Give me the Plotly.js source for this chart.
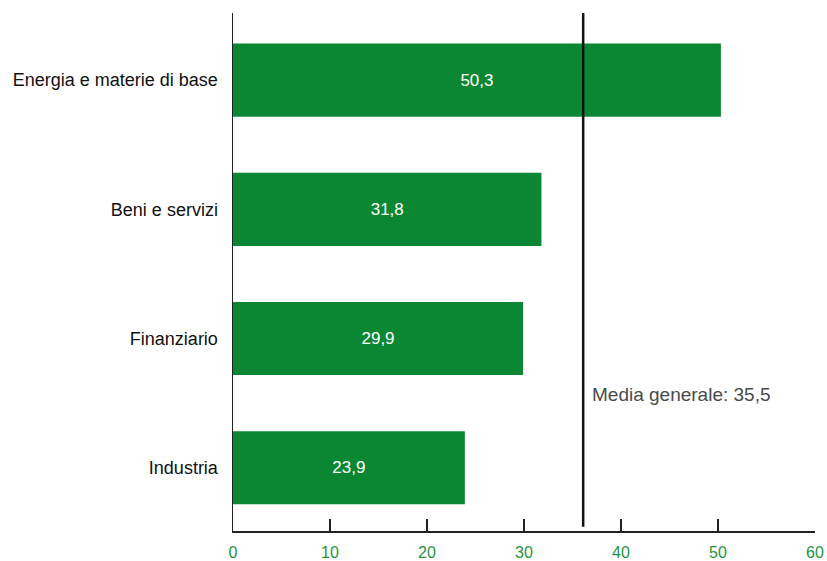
<!DOCTYPE html>
<html>
<head>
<meta charset="utf-8">
<script src="https://cdn.plot.ly/plotly-3.0.1.min.js"></script>
<style>html,body{margin:0;padding:0;background:#fff;}#chart{width:827px;height:561px;}</style>
</head>
<body>
<div id="chart"></div>
<script>
const categories = ["Industria", "Finanziario", "Beni e servizi", "Energia e materie di base"];
const values = [23.9, 29.9, 31.8, 50.3];
const meanLabel = "Media generale: 35,5";
const meanLineX = 36.1;
const xTicks = [0, 10, 20, 30, 40, 50, 60];

const green = "#0b8733";
const trace = {
  type: "bar",
  orientation: "h",
  y: categories,
  x: values,
  marker: {color: green},
  width: 0.566,
  text: values.map(v => v.toFixed(1).replace(".", ",")),
  textposition: "inside",
  insidetextanchor: "middle",
  textfont: {color: "#ffffff", size: 17, family: "Liberation Sans, Arial, sans-serif"},
  hoverinfo: "none",
  cliponaxis: false
};

const layout = {
  width: 827, height: 561,
  margin: {l: 233, r: 12, t: 13, b: 30},
  paper_bgcolor: "#fff", plot_bgcolor: "#fff",
  showlegend: false,
  xaxis: {
    range: [0, 60], tickvals: xTicks, ticktext: xTicks.map(String),
    showgrid: false, zeroline: false,
    showline: true, linecolor: "#222", linewidth: 1.5,
    ticks: "inside", ticklen: 12, tickwidth: 1.5, tickcolor: "#222",
    tickfont: {color: "#1f9440", size: 16, family: "Liberation Sans, Arial, sans-serif"},
    ticklabelstandoff: 6
  },
  yaxis: {
    range: [-0.49, 3.52],
    showgrid: false, zeroline: false,
    showline: true, linecolor: "#222", linewidth: 1.5,
    ticks: "",
    tickfont: {color: "#111", size: 18, family: "Liberation Sans, Arial, sans-serif"},
    ticklabelstandoff: 10
  },
  shapes: [{
    type: "line", xref: "x", yref: "paper",
    x0: meanLineX, x1: meanLineX, y0: 0.008, y1: 1,
    line: {color: "#111", width: 2.5}
  }],
  annotations: [{
    xref: "x", yref: "y", x: meanLineX, y: 0.57,
    xanchor: "left", yanchor: "middle", xshift: 7,
    text: meanLabel, showarrow: false,
    font: {color: "#4a4a4a", size: 19, family: "Liberation Sans, Arial, sans-serif"}
  }]
};

Plotly.newPlot("chart", [trace], layout, {displayModeBar: false, staticPlot: true});
</script>
</body>
</html>
